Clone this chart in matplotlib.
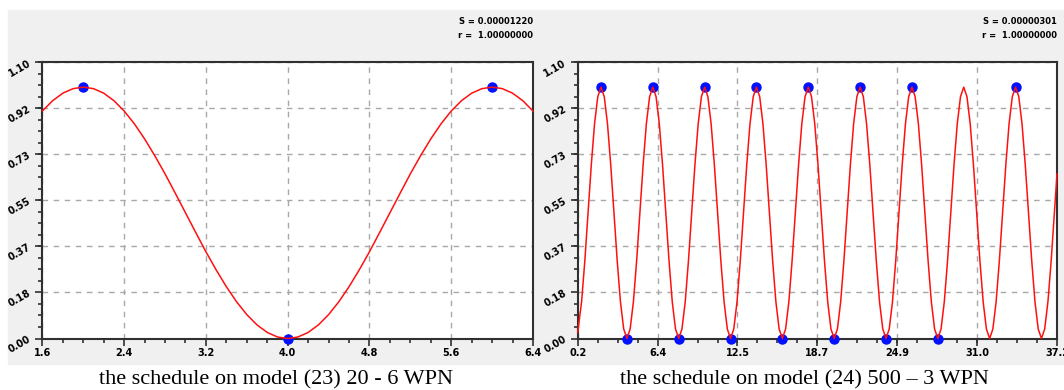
import numpy as np
import matplotlib
matplotlib.use('Agg')
import matplotlib.pyplot as plt
from matplotlib.ticker import FixedLocator, AutoMinorLocator
from matplotlib.patches import Rectangle

# left panel: model (23) 20 - 6 WPN
left_x = list(np.round(np.arange(1.6, 6.41, 0.1), 2))
left_y = [0.905, 0.946, 0.976, 0.994, 1.000, 0.994, 0.976, 0.946, 0.905, 0.854,
          0.794, 0.727, 0.655, 0.578, 0.500, 0.422, 0.345, 0.273, 0.206, 0.146,
          0.095, 0.054, 0.024, 0.006, 0.000, 0.006, 0.024, 0.054, 0.095, 0.146,
          0.206, 0.273, 0.345, 0.422, 0.500, 0.578, 0.655, 0.727, 0.794, 0.854,
          0.905, 0.946, 0.976, 0.994, 1.000, 0.994, 0.976, 0.946, 0.905]
left_pts_x = [2.0, 6.0, 4.0]
left_pts_y = [1.0, 1.0, 0.0]
left_xticks = [1.6, 2.4, 3.2, 4.0, 4.8, 5.6, 6.4]
left_xlabels = ['1.6', '2.4', '3.2', '4.0', '4.8', '5.6', '6.4']

# right panel: model (24) 500 - 3 WPN
right_x = [0.2] + list(np.arange(0.5, 37.01, 0.25)) + [37.2]
right_y = [0.024,
           0.146, 0.309, 0.500, 0.691, 0.854, 0.962, 1.000, 0.962,
           0.854, 0.691, 0.500, 0.309, 0.146, 0.038, 0.000, 0.038,
           0.146, 0.309, 0.500, 0.691, 0.854, 0.962, 1.000, 0.962,
           0.854, 0.691, 0.500, 0.309, 0.146, 0.038, 0.000, 0.038,
           0.146, 0.309, 0.500, 0.691, 0.854, 0.962, 1.000, 0.962,
           0.854, 0.691, 0.500, 0.309, 0.146, 0.038, 0.000, 0.038,
           0.146, 0.309, 0.500, 0.691, 0.854, 0.962, 1.000, 0.962,
           0.854, 0.691, 0.500, 0.309, 0.146, 0.038, 0.000, 0.038,
           0.146, 0.309, 0.500, 0.691, 0.854, 0.962, 1.000, 0.962,
           0.854, 0.691, 0.500, 0.309, 0.146, 0.038, 0.000, 0.038,
           0.146, 0.309, 0.500, 0.691, 0.854, 0.962, 1.000, 0.962,
           0.854, 0.691, 0.500, 0.309, 0.146, 0.038, 0.000, 0.038,
           0.146, 0.309, 0.500, 0.691, 0.854, 0.962, 1.000, 0.962,
           0.854, 0.691, 0.500, 0.309, 0.146, 0.038, 0.000, 0.038,
           0.146, 0.309, 0.500, 0.691, 0.854, 0.962, 1.000, 0.962,
           0.854, 0.691, 0.500, 0.309, 0.146, 0.038, 0.000, 0.038,
           0.146, 0.309, 0.500, 0.691, 0.854, 0.962, 1.000, 0.962,
           0.854, 0.691, 0.500, 0.309, 0.146, 0.038, 0.000, 0.038,
           0.146, 0.309, 0.500, 0.655]
right_pts_x = [2, 6, 10, 14, 18, 22, 26, 34, 4, 8, 12, 16, 20, 24, 28]
right_pts_y = [1, 1, 1, 1, 1, 1, 1, 1, 0, 0, 0, 0, 0, 0, 0]
right_xticks = [0.2, 6.367, 12.533, 18.7, 24.867, 31.033, 37.2]
right_xlabels = ['0.2', '6.4', '12.5', '18.7', '24.9', '31.0', '37.2']

yticks = [0.0, 0.1833, 0.3667, 0.55, 0.7333, 0.9167, 1.1]
ylabels = ['0.00', '0.18', '0.37', '0.55', '0.73', '0.92', '1.10']

fig = plt.figure(figsize=(10.64, 3.9), dpi=100)
W, H = 1064, 390
fig.patches.append(Rectangle((8 / W, 1 - 364 / H), 1 - 8 / W, 354 / H,
                             transform=fig.transFigure, color='#f0f0f0', zorder=-5))

tick_font = dict(fontsize=7, fontweight='bold', family='DejaVu Sans')


def panel(rect, x, y, px, py, xticks, xlabels, s_text, caption, cap_x):
    ax = fig.add_axes(rect)
    ax.set_facecolor('white')
    ax.plot(px, py, 'o', color='#0010ff', markersize=6.5, clip_on=False, zorder=3)
    ax.plot(x, y, color='#ff1010', linewidth=1.1, zorder=4, clip_on=False)
    ax.set_xlim(xticks[0], xticks[-1])
    ax.set_ylim(0, 1.1)
    ax.xaxis.set_major_locator(FixedLocator(xticks))
    ax.set_xticklabels(xlabels, **tick_font)
    ax.yaxis.set_major_locator(FixedLocator(yticks))
    ax.set_yticklabels(ylabels, rotation=30, **tick_font)
    ax.xaxis.set_minor_locator(AutoMinorLocator(4))
    ax.yaxis.set_minor_locator(AutoMinorLocator(4))
    ax.tick_params(which='major', length=5, width=1.2, color='#303030', pad=2)
    ax.tick_params(which='minor', length=3, width=1.2, color='#303030')
    ax.grid(True, which='major', color='#a8a8a8', linestyle=(0, (4, 4)), linewidth=1)
    for sp in ax.spines.values():
        sp.set_color('#303030')
        sp.set_linewidth(1.5)
    rx = rect[0] + rect[2]
    fig.text(rx, 1 - 21 / H, s_text, ha='right', va='center', fontsize=6,
             fontweight='bold', family='DejaVu Sans')
    fig.text(rx, 1 - 35 / H, 'r =  1.00000000', ha='right', va='center', fontsize=6,
             fontweight='bold', family='DejaVu Sans')
    fig.text(cap_x / W, 1 - 380 / H, caption, ha='center', va='center',
             fontsize=16, family='Liberation Serif')
    return ax


panel([42.4 / W, 1 - 338.5 / H, (533 - 42.4) / W, (338.5 - 62) / H],
      left_x, left_y, left_pts_x, left_pts_y, left_xticks, left_xlabels,
      'S = 0.00001220', 'the schedule on model (23) 20 - 6 WPN', 276)
panel([577.7 / W, 1 - 338.5 / H, (1057 - 577.7) / W, (338.5 - 62) / H],
      right_x, right_y, right_pts_x, right_pts_y, right_xticks, right_xlabels,
      'S = 0.00000301', 'the schedule on model (24) 500 \u2013 3 WPN', 804)

fig.savefig('out.png', dpi=100)
